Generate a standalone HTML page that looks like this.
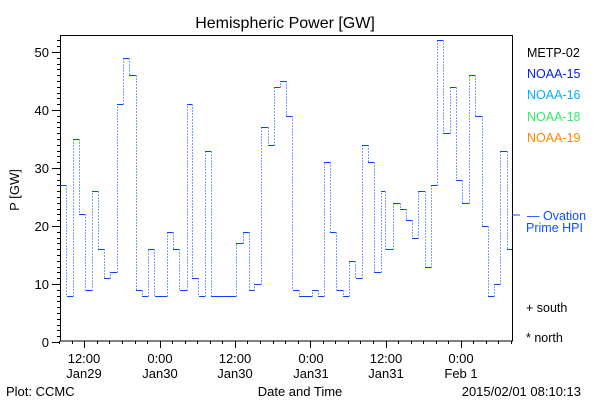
<!DOCTYPE html>
<html><head><style>
body{margin:0;background:#fff;}
svg{display:block;font-family:"Liberation Sans",sans-serif;}
</style></head><body>
<svg id="s" width="600" height="400" xmlns="http://www.w3.org/2000/svg">
<rect width="600" height="400" fill="#fff"/>
<text x="285" y="28" font-size="16" text-anchor="middle">Hemispheric Power [GW]</text>
<g id="ax" stroke="#000" stroke-width="1" fill="none" shape-rendering="crispEdges"></g>
<g id="data" shape-rendering="crispEdges"></g>
<g font-size="13" text-anchor="end" id="yl"></g>
<text transform="translate(19,190) rotate(-90)" font-size="13" text-anchor="middle">P [GW]</text>
<g font-size="13" text-anchor="middle">
<text x="84" y="363">12:00</text><text x="84" y="378">Jan29</text>
<text x="160" y="363">0:00</text><text x="160" y="378">Jan30</text>
<text x="235" y="363">12:00</text><text x="235" y="378">Jan30</text>
<text x="311" y="363">0:00</text><text x="311" y="378">Jan31</text>
<text x="386" y="363">12:00</text><text x="386" y="378">Jan31</text>
<text x="461" y="363">0:00</text><text x="461" y="378">Feb 1</text>
<text x="300" y="396">Date and Time</text>
</g>
<text x="6" y="396" font-size="13">Plot: CCMC</text>
<text x="581" y="396" font-size="13" text-anchor="end">2015/02/01 08:10:13</text>
<g font-size="12.5">
<text x="527" y="57" fill="#000">METP-02</text>
<text x="527" y="78" fill="#0022ee">NOAA-15</text>
<text x="527" y="99" fill="#00b0ff">NOAA-16</text>
<text x="527" y="121" fill="#33ee66">NOAA-18</text>
<text x="527" y="142" fill="#ff8800">NOAA-19</text>
<text x="527" y="220" fill="#1050ff">— Ovation</text>
<text x="526" y="232" fill="#1050ff">Prime HPI</text>
<text x="526" y="312" fill="#000">+ south</text>
<text x="526" y="342" fill="#000">* north</text>
</g>
<line x1="512" y1="215" x2="520" y2="215" stroke="#1050ff"/>
</svg>
<script>
var NS="http://www.w3.org/2000/svg";
function el(p,t,a){var e=document.createElementNS(NS,t);for(var k in a)e.setAttribute(k,a[k]);p.appendChild(e);return e;}
var ax=document.getElementById('ax');
el(ax,'rect',{x:60.5,y:35.5,width:452,height:305.5});
var Y=function(v){return 342-5.8*v;};
for(var v=0;v<=52;v++){var y=Math.round(Y(v))+0.5;el(ax,'line',{x1:v%10==0?52:57,y1:y,x2:60,y2:y});}
var yl=document.getElementById('yl');
for(var v=0;v<=50;v+=10){var t=el(yl,'text',{x:49,y:Y(v)+5});t.textContent=v;}
for(var i=0;;i++){var x=59.2+12.55*i;if(x>513)break;var xx=Math.round(x)+0.5;el(ax,'line',{x1:xx,y1:341,x2:xx,y2:(i%6==2)?348:344});}
var d=[[60,66,27],[67,73,8],[73,79,35],[79,85,22],[86,92,9],[92,98,26],[98,104,16],[104,110,11],[110,117,12],[117,123,41],[123,129,49],[129,136,46],[136,142,9],[142,148,8],[148,154,16],[155,167,8],[167,173,19],[173,179,16],[180,187,9],[187,192,41],[192,198,11],[199,205,8],[205,211,33],[211,236,8],[236,243,17],[243,249,19],[249,254,9],[254,261,10],[261,268,37],[268,274,34],[274,280,44],[280,286,45],[286,292,39],[293,299,9],[299,312,8],[312,318,9],[318,324,8],[324,330,31],[330,336,19],[337,343,9],[343,349,8],[349,355,14],[356,362,11],[362,368,34],[368,374,31],[374,381,12],[381,385,26],[386,393,16],[393,400,24],[400,406,23],[406,412,21],[412,418,18],[418,425,26],[425,431,13],[431,437,27],[437,443,52],[443,450,36],[450,456,44],[456,462,28],[462,469,24],[469,475,46],[475,482,39],[482,488,20],[488,494,8],[494,500,10],[500,507,33],[507,512,16]];
var g=document.getElementById('data');var h="",vv="";
for(var i=0;i<d.length;i++){var y=Math.round(Y(d[i][2]))+0.5;h+="M"+d[i][0]+" "+y+"H"+d[i][1];
if(i<d.length-1){var y2=Math.round(Y(d[i+1][2]))+0.5;var x=d[i][1]+0.5;vv+="M"+x+" "+y+"V"+y2;}}
el(g,'path',{d:vv,stroke:'#0040ff','stroke-width':1,'stroke-dasharray':'1,2',fill:'none'});
el(g,'path',{d:h,stroke:'#0048ff','stroke-width':1,fill:'none'});
</script>
</body></html>
